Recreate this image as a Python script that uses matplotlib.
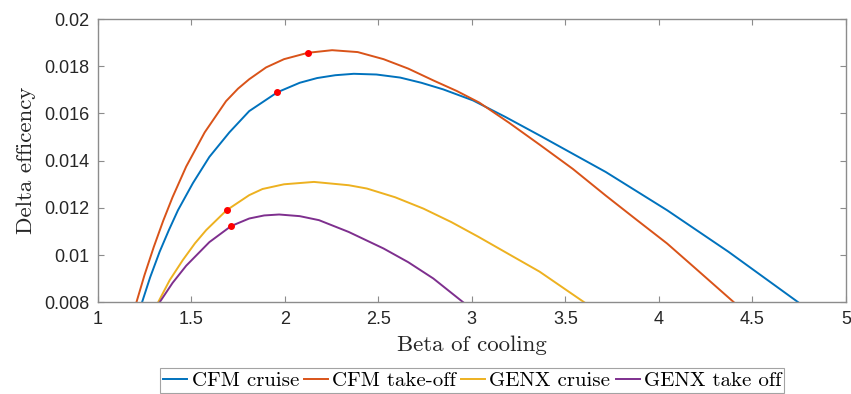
import matplotlib.pyplot as plt

# valores
beta_cfm_cruise = [1.237, 1.280, 1.331, 1.380, 1.429, 1.509, 1.597, 1.704, 1.810, 1.961,
                   2.080, 2.173, 2.270, 2.369, 2.490, 2.617, 2.730, 2.847, 3.007, 3.180,
                   3.362, 3.716, 4.044, 4.372, 4.745]
eff_cfm_cruise = [0.00800, 0.00905, 0.01014, 0.01105, 0.01190, 0.01305, 0.01416, 0.01520, 0.01610, 0.01690,
                  0.01730, 0.01750, 0.01762, 0.01768, 0.01765, 0.01752, 0.01730, 0.01702, 0.01655, 0.01585,
                  0.01507, 0.01352, 0.01190, 0.01014, 0.00800]

beta_cfm_takeoff = [1.207, 1.250, 1.300, 1.350, 1.400, 1.473, 1.572, 1.686, 1.750, 1.810,
                    1.900, 1.996, 2.124, 2.253, 2.390, 2.528, 2.660, 2.794, 2.920, 3.040,
                    3.200, 3.362, 3.540, 3.716, 3.880, 4.044, 4.195, 4.401]
eff_cfm_takeoff = [0.00800, 0.00915, 0.01035, 0.01145, 0.01245, 0.01375, 0.01520, 0.01652, 0.01705, 0.01745,
                   0.01795, 0.01830, 0.01857, 0.01868, 0.01860, 0.01830, 0.01790, 0.01740, 0.01695, 0.01646,
                   0.01560, 0.01468, 0.01365, 0.01252, 0.01150, 0.01049, 0.00944, 0.00800]

beta_genx_cruise = [1.323, 1.385, 1.455, 1.520, 1.580, 1.689, 1.810, 1.881, 1.996, 2.156,
                    2.342, 2.439, 2.590, 2.741, 2.890, 3.034, 3.200, 3.362, 3.601]
eff_genx_cruise = [0.00800, 0.00894, 0.00979, 0.01050, 0.01106, 0.01190, 0.01254, 0.01280, 0.01300, 0.01310,
                   0.01296, 0.01282, 0.01245, 0.01197, 0.01140, 0.01078, 0.01003, 0.00930, 0.00800]

beta_genx_takeoff = [1.331, 1.400, 1.473, 1.597, 1.713, 1.810, 1.890, 1.970, 2.080, 2.183,
                     2.342, 2.528, 2.660, 2.794, 2.954]
eff_genx_takeoff = [0.00800, 0.00882, 0.00955, 0.01055, 0.01123, 0.01155, 0.01168, 0.01172, 0.01165, 0.01148,
                    0.01098, 0.01028, 0.00970, 0.00901, 0.00800]

# pontos de operacao (marcadores vermelhos)
beta_pontos = [1.961, 2.124, 1.689, 1.713]
eff_pontos = [0.01690, 0.01857, 0.01190, 0.01123]

legendas = ["CFM cruise", "CFM take-off", "GENX cruise", "GENX take off"]
cores = ["#0072BD", "#D95319", "#EDB120", "#7E2F8E"]

x_ticks = [1, 1.5, 2, 2.5, 3, 3.5, 4, 4.5, 5]
x_labels = ["1", "1.5", "2", "2.5", "3", "3.5", "4", "4.5", "5"]
y_ticks = [0.008, 0.010, 0.012, 0.014, 0.016, 0.018, 0.020]
y_labels = ["0.008", "0.01", "0.012", "0.014", "0.016", "0.018", "0.02"]

fig = plt.figure(figsize=(8.51, 3.94), dpi=100)
ax = fig.add_axes([0.1148, 0.2327, 0.8793, 0.719])

series = [
    (beta_cfm_cruise, eff_cfm_cruise),
    (beta_cfm_takeoff, eff_cfm_takeoff),
    (beta_genx_cruise, eff_genx_cruise),
    (beta_genx_takeoff, eff_genx_takeoff),
]
linhas = []
for (bx, ey), cor, nome in zip(series, cores, legendas):
    (ln,) = ax.plot(bx, ey, color=cor, lw=1.4, label=nome, solid_joinstyle="round")
    linhas.append(ln)

ax.plot(beta_pontos, eff_pontos, "o", color="red", markersize=4, zorder=5)

ax.set_xlim(1, 5)
ax.set_ylim(0.008, 0.02)
ax.set_xticks(x_ticks)
ax.set_xticklabels(x_labels)
ax.set_yticks(y_ticks)
ax.set_yticklabels(y_labels)

cinza = "#8c8c8c"
for sp in ax.spines.values():
    sp.set_color(cinza)
    sp.set_linewidth(1.0)
ax.tick_params(direction="in", length=4.5, width=0.8, color=cinza,
               top=True, right=True, labelsize=13, labelcolor="#262626", pad=6)
for lbl in ax.get_xticklabels() + ax.get_yticklabels():
    lbl.set_family("Liberation Sans")

ax.set_xlabel("Beta of cooling", family="cmr10", fontsize=16.5, color="#262626", labelpad=6)
ax.set_ylabel("Delta efficency", family="cmr10", fontsize=16.5, color="#262626", labelpad=6)

leg = fig.legend(handles=linhas, labels=legendas, loc="upper center",
                 bbox_to_anchor=(0.555, 0.065), ncol=4, frameon=True, fancybox=False,
                 prop={"family": "cmr10", "size": 15}, handlelength=1.15,
                 handletextpad=0.2, columnspacing=0.25, borderpad=0.15,
                 borderaxespad=0)
leg.get_frame().set_edgecolor(cinza)
leg.get_frame().set_linewidth(0.8)

fig.savefig("out.png", dpi=100)
